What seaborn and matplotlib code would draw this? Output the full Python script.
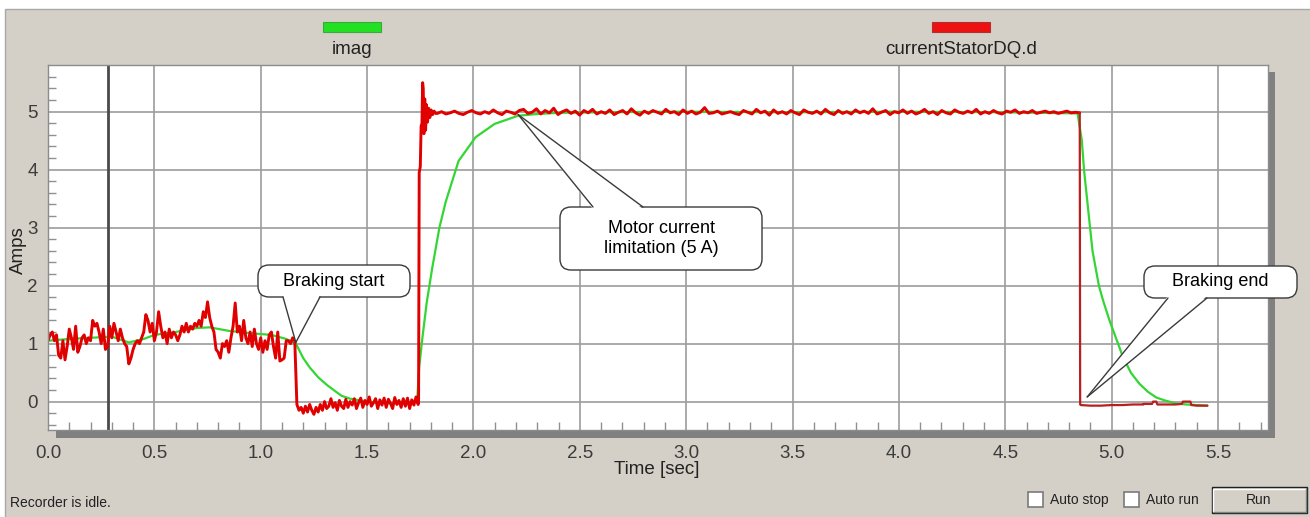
"""
Recorder-Ansicht: imag / currentStatorDQ.d beim Bremsen nachgebaut
"""
import numpy as np
import pandas as pd
import matplotlib
matplotlib.use('Agg')
import matplotlib.pyplot as plt
import matplotlib.patches as mpatches
import matplotlib.transforms as mtransforms
from matplotlib.lines import Line2D
import seaborn as sns

sns.set_style('white')
plt.rcParams['font.family'] = ['Liberation Sans', 'DejaVu Sans']

# --- Achsen ---
x_major = [0.0, 0.5, 1.0, 1.5, 2.0, 2.5, 3.0, 3.5, 4.0, 4.5, 5.0, 5.5]
x_labels = ['0.0', '0.5', '1.0', '1.5', '2.0', '2.5', '3.0', '3.5', '4.0', '4.5', '5.0', '5.5']
y_major = [0, 1, 2, 3, 4, 5]
y_labels = ['0', '1', '2', '3', '4', '5']
cursor_t = 0.28

# --- currentStatorDQ.d (rot), abschnittsweise abgelesen ---
# vor dem Bremsen, 0.00 .. 1.16 s
red_pre = [1.05, 1.15, 1.20, 1.05, 1.15, 0.80, 0.75, 1.05, 0.72, 0.95,
           1.25, 1.10, 0.90, 1.30, 0.85, 0.95, 1.10, 1.15, 1.00, 1.10,
           1.05, 1.40, 1.30, 1.35, 1.20, 1.00, 1.25, 0.90, 0.95, 1.30,
           1.10, 1.35, 1.20, 1.05, 1.25, 1.10, 1.00, 0.95, 0.65, 0.75,
           0.90, 1.00, 1.05, 1.00, 1.10, 1.20, 1.50, 1.40, 1.20, 1.35,
           1.05, 1.20, 1.55, 1.30, 1.10, 1.20, 1.00, 1.25, 1.10, 1.20,
           1.15, 1.05, 1.15, 1.30, 1.20, 1.35, 1.20, 1.30, 1.25, 1.35,
           1.30, 1.40, 1.30, 1.55, 1.45, 1.72, 1.45, 1.30, 1.20, 0.90,
           0.85, 0.75, 1.00, 0.95, 1.05, 0.85, 1.10, 1.30, 1.70, 1.20,
           1.30, 1.05, 1.40, 1.10, 1.00, 1.20, 0.95, 1.25, 1.00, 0.90,
           1.10, 0.85, 1.05, 0.90, 1.15, 1.20, 0.95, 0.75, 1.20, 0.70,
           0.72, 0.75, 1.05, 1.05, 1.00, 1.10, 1.05]
# Bremsphase, 1.17 .. 1.74 s
red_brake = [-0.05, -0.15, -0.10, -0.20, -0.08, -0.18, -0.05, -0.15, -0.22, -0.10,
             -0.18, -0.05, -0.15, 0.00, -0.12, -0.08, 0.05, -0.10, -0.02, -0.15,
             0.02, -0.08, -0.12, 0.04, -0.10, 0.00, -0.06, 0.05, -0.12, -0.02,
             0.06, -0.10, 0.02, -0.05, 0.08, -0.08, -0.02, 0.05, -0.12, 0.03,
             -0.06, 0.06, -0.10, 0.04, -0.03, -0.12, 0.07, -0.05, 0.02, -0.10,
             0.05, -0.08, 0.06, -0.12, 0.03, -0.06, 0.08, -0.05]
# Sprung auf die Strombegrenzung
rise_t = [1.742, 1.745, 1.750, 1.754, 1.758, 1.761, 1.764, 1.767, 1.771, 1.775,
          1.779, 1.784, 1.789, 1.795, 1.801, 1.808, 1.815, 1.822]
rise_v = [0.02, 3.95, 4.05, 4.75, 4.80, 5.50, 5.40, 4.62, 5.22, 4.68,
          5.12, 4.82, 5.06, 4.90, 5.03, 4.95, 5.01, 4.97]
# Plateau 5 A, 1.83 .. 4.85 s
red_flat = [4.97, 5.00, 4.96, 4.98, 5.01, 4.97, 4.95, 4.99, 5.02, 4.98,
            4.96, 5.00, 4.97, 5.03, 4.98, 4.95, 5.01, 4.99, 4.96, 5.02,
            5.04, 4.97, 4.99, 5.05, 4.96, 5.02, 4.98, 5.06, 4.95, 5.00,
            5.03, 4.97, 5.01, 4.94, 5.02, 4.98, 5.04, 4.96, 5.00, 4.97,
            5.03, 4.95, 4.99, 5.02, 4.96, 5.05, 4.98, 4.94, 5.01, 4.97,
            5.02, 4.99, 4.96, 5.04, 4.98, 5.00, 4.95, 5.03, 4.97, 5.01,
            4.96, 4.99, 5.07, 4.97, 4.98, 5.01, 4.96, 4.98, 5.00, 4.97,
            4.95, 5.02, 4.99, 4.96, 5.04, 4.98, 5.01, 4.94, 5.03, 4.97,
            5.00, 4.96, 5.02, 4.98, 4.95, 5.03, 4.99, 4.97, 5.01, 4.96,
            5.04, 4.98, 4.95, 5.02, 4.97, 5.00, 4.96, 5.03, 4.98, 5.01,
            4.97, 5.05, 4.96, 4.99, 5.02, 4.95, 5.00, 4.98, 5.03, 4.97,
            5.01, 4.96, 4.99, 5.04, 4.97, 5.00, 4.95, 5.02, 4.98, 4.96,
            5.03, 4.99, 4.97, 5.01, 4.98, 5.04, 4.96, 5.00, 4.97, 5.02,
            4.98, 4.96, 5.01, 4.99, 5.03, 4.97, 5.00, 4.98, 5.02, 4.97,
            4.99, 5.01, 4.98, 5.00, 4.97, 4.99, 5.01, 4.98, 4.99, 4.98]
# Bremsende
tail_t = [4.852, 4.855, 4.90, 4.95, 5.00, 5.05, 5.10, 5.149, 5.15, 5.19, 5.195,
          5.21, 5.215, 5.30, 5.33, 5.335, 5.37, 5.375, 5.40, 5.45]
tail_v = [-0.05, -0.06, -0.07, -0.07, -0.06, -0.06, -0.05, -0.05, -0.04, -0.04, 0.00,
          0.00, -0.05, -0.05, -0.04, 0.00, 0.00, -0.06, -0.07, -0.07]

# --- imag (gruen) ---
green_t = [0.00, 0.10, 0.20, 0.30, 0.38, 0.45, 0.50, 0.60, 0.70, 0.76,
           0.85, 0.95, 1.05, 1.12, 1.165, 1.20, 1.23, 1.27, 1.31, 1.35,
           1.38, 1.42, 1.50, 1.60, 1.70, 1.735, 1.745, 1.76, 1.78, 1.806,
           1.84, 1.87, 1.93, 2.01, 2.10, 2.21, 2.30, 2.40, 2.60, 3.00,
           3.50, 4.00, 4.50, 4.84, 4.86, 4.87, 4.89, 4.91, 4.94, 4.96,
           4.99, 5.01, 5.05, 5.09, 5.13, 5.17, 5.21, 5.25, 5.30, 5.35,
           5.40, 5.45]
green_v = [1.05, 1.08, 1.10, 1.12, 1.02, 1.08, 1.15, 1.20, 1.27, 1.28,
           1.22, 1.18, 1.15, 1.08, 1.00, 0.75, 0.59, 0.42, 0.29, 0.18,
           0.10, 0.05, 0.00, -0.03, -0.02, 0.00, 0.60, 1.10, 1.70, 2.30,
           3.00, 3.45, 4.15, 4.56, 4.79, 4.93, 4.96, 4.98, 4.99, 5.00,
           4.99, 5.00, 4.99, 4.97, 4.50, 4.00, 3.30, 2.60, 2.00, 1.74,
           1.40, 1.20, 0.80, 0.50, 0.31, 0.17, 0.07, 0.02, -0.03, -0.05,
           -0.06, -0.07]

red_t = np.concatenate([np.linspace(0.0, 1.16, len(red_pre)),
                        np.linspace(1.17, 1.74, len(red_brake)),
                        rise_t,
                        np.linspace(1.83, 4.85, len(red_flat))])
red_v = np.concatenate([red_pre, red_brake, rise_v, red_flat])
df_red = pd.DataFrame({'t': red_t, 'v': red_v})
df_tail = pd.DataFrame({'t': np.concatenate([[4.85], tail_t]),
                        'v': np.concatenate([[red_flat[-1]], tail_v])})
df_green = pd.DataFrame({'t': green_t, 'v': green_v})

# --- Figur in Pixeln (Ursprung oben links) ---
W, H = 1310, 517
fig = plt.figure(figsize=(W / 100, H / 100), dpi=100, facecolor='white')
pix = mtransforms.Affine2D().scale(1, -1).translate(0, H)

def rect(x0, y0, x1, y1, **kw):
    p = mpatches.Rectangle((x0, y0), x1 - x0, y1 - y0, transform=pix, **kw)
    fig.add_artist(p)
    return p

def line(xs, ys, **kw):
    l = Line2D(xs, ys, transform=pix, **kw)
    fig.add_artist(l)

def label(x, y, s, **kw):
    fig.text(x, y, s, transform=pix, **kw)

# Fensterhintergrund
rect(5, 9, W + 5, H + 5, facecolor='#D4D0C8', edgecolor='#A8A8A8', lw=1, zorder=-10)
# Schatten rechts / unten
rect(56, 430, 1275, 438, facecolor='#808080', edgecolor='none', zorder=-5)
rect(1267, 72, 1275, 438, facecolor='#808080', edgecolor='none', zorder=-5)

ax = fig.add_axes([48 / W, (H - 430) / H, 1220 / W, 365 / H])
ax.set_facecolor('white')

sns.lineplot(data=df_green, x='t', y='v', ax=ax, color='#33D633', linewidth=1.6,
             estimator=None, sort=False)
sns.lineplot(data=df_red, x='t', y='v', ax=ax, color='#E00000', linewidth=2.1,
             estimator=None, sort=False)
sns.lineplot(data=df_tail, x='t', y='v', ax=ax, color='#B82020', linewidth=1.6,
             estimator=None, sort=False)
ax.axvline(cursor_t, color='#4A4A4A', lw=2, zorder=1.5)

ax.set_xlim(0, 5.735)
ax.set_ylim(-0.49, 5.805)
ax.set_xticks(x_major)
ax.set_xticklabels(x_labels)
ax.set_yticks(y_major)
ax.set_yticklabels(y_labels)
ax.set_xticks(np.round(np.arange(0.1, 5.71, 0.1), 2), minor=True)
ax.set_yticks(np.round(np.arange(-0.4, 5.8, 0.2), 2), minor=True)
ax.grid(True, which='major', color='#9C9C9C', lw=1.2)
ax.set_axisbelow(True)
ax.tick_params(axis='x', which='major', length=0, pad=10.5, labelsize=13.5, labelcolor='#3C3C3C')
ax.tick_params(axis='y', which='major', direction='out', length=4.5, width=1,
               color='#808080', pad=3, labelsize=13.5, labelcolor='#3C3C3C')
ax.tick_params(axis='x', which='minor', direction='in', length=6, width=1,
               color='#909090', bottom=True)
ax.tick_params(axis='y', which='minor', direction='in', length=5.5, width=1,
               color='#909090', left=True)
for s in ax.spines.values():
    s.set_color('#8C8C8C')
    s.set_linewidth(1)
ax.set_xlabel('')
ax.set_ylabel('')

label(657, 470, 'Time [sec]', fontsize=13.5, ha='center', va='center', color='#222222')
label(18, 250, 'Amps', fontsize=13.5, ha='center', va='center', rotation=90, color='#222222')

# Legende oben
rect(323, 22, 381, 32, facecolor='#22E022', edgecolor='#3AAA3A', lw=0.8)
label(352, 50, 'imag', fontsize=13.5, ha='center', va='center', color='#222222')
rect(932, 22, 990, 32, facecolor='#EE1111', edgecolor='#B03030', lw=0.8)
label(961, 50, 'currentStatorDQ.d', fontsize=13.5, ha='center', va='center', color='#222222')

# Sprechblasen
def callout(x0, y0, x1, y1, base, tip, text, side):
    bx = mpatches.FancyBboxPatch((x0, y0), x1 - x0, y1 - y0,
                                 boxstyle='round,pad=0,rounding_size=11',
                                 transform=pix, facecolor='white',
                                 edgecolor='#3A3A3A', lw=1, zorder=10)
    fig.add_artist(bx)
    xd, yd = ax.transData.transform(tip)
    tx, ty = xd, H - yd
    edge_y = y1 if side == 'bottom' else y0
    inner = -2 if side == 'bottom' else 2
    wedge = mpatches.Polygon([(base[0], edge_y + inner), (base[1], edge_y + inner), (tx, ty)],
                             closed=True, transform=pix, facecolor='white',
                             edgecolor='none', zorder=11)
    fig.add_artist(wedge)
    line([base[0], tx], [edge_y, ty], color='#3A3A3A', lw=1, zorder=12)
    line([base[1], tx], [edge_y, ty], color='#3A3A3A', lw=1, zorder=12)
    label((x0 + x1) / 2, (y0 + y1) / 2, text, fontsize=13, ha='center', va='center',
          color='black', zorder=13, linespacing=1.3)

callout(258, 265, 410, 297, (283, 320), (1.165, 1.02), 'Braking start', 'bottom')
callout(560, 207, 762, 270, (593, 643), (2.21, 4.95), 'Motor current\nlimitation (5 A)', 'top')
callout(1144, 266, 1297, 298, (1168, 1207), (4.885, 0.08), 'Braking end', 'bottom')

# Statuszeile
label(10, 503, 'Recorder is idle.', fontsize=10, ha='left', va='center', color='#222222')
for bx0, txt in [(1028, 'Auto stop'), (1124, 'Auto run')]:
    rect(bx0, 492, bx0 + 15, 507, facecolor='white', edgecolor='#7A7A7A', lw=1.2)
    label(bx0 + 22, 500, txt, fontsize=10, ha='left', va='center', color='#222222')
rect(1212, 487, 1307, 513, facecolor='#D4D0C8', edgecolor='#202020', lw=1)
line([1213, 1213, 1305], [511, 488.5, 488.5], color='white', lw=1)
line([1213.5, 1305.5, 1305.5], [511.5, 511.5, 488.5], color='#808080', lw=1)
label(1259, 500, 'Run', fontsize=10, ha='center', va='center', color='#222222')

fig.savefig('out.png', dpi=100, facecolor=fig.get_facecolor())
